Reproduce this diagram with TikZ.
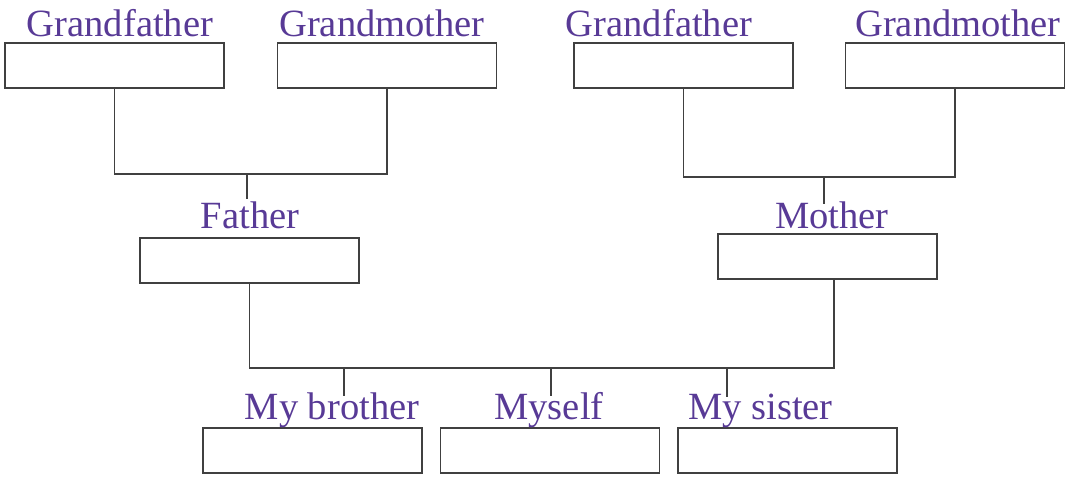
\documentclass[tikz,border=0pt]{standalone}
\usepackage{fontspec}
\setmainfont{Liberation Serif}
\usetikzlibrary{calc}
\definecolor{famtext}{RGB}{88,58,150}
\definecolor{famline}{RGB}{64,64,64}
\tikzset{
  namebox/.style={draw=famline, line width=0.9pt, minimum width=164.25pt, minimum height=33.75pt, inner sep=0pt},
  relname/.style={text=famtext, anchor=base, inner sep=0pt, font=\fontsize{28.9}{32}\selectfont},
  link/.style={draw=famline, line width=0.8pt}
}

\begin{document}
\begin{tikzpicture}[x=0.75pt,y=-0.75pt]
\useasboundingbox (0,0) rectangle (1072,476);
% Grandparents
\node[namebox] (gfA) at (114.5,65.5) {};
\node[namebox] (gmA) at (387,65.5) {};
\node[namebox] (gfB) at (683.5,65.5) {};
\node[namebox] (gmB) at (955,65.5) {};
\node[relname] (gfA-l) at (120,36) {Grandfather};
\node[relname] (gmA-l) at (382,36) {Grandmother};
\node[relname] (gfB-l) at (659,36) {Grandfather};
\node[relname] (gmB-l) at (958,36) {Grandmother};
% Parents
\node[namebox] (father) at (249.5,260.5) {};
\node[namebox] (mother) at (827.5,256.5) {};
\node[relname] (father-l) at (250,228) {Father};
\node[relname] (mother-l) at (832,228) {Mother};
% Children
\node[namebox] (brother) at (312.5,450.5) {};
\node[namebox] (myself) at (550,450.5) {};
\node[namebox] (sister) at (787.5,450.5) {};
\node[relname] (brother-l) at (332,419) {My brother};
\node[relname] (myself-l) at (549,419) {Myself};
\node[relname] (sister-l) at (760.5,419) {My sister};
% Junctions
\coordinate (joinA) at (247,174);
\coordinate (joinB) at (824,177);
\coordinate (joinC) at (551,368);
\coordinate (kidA) at (344,368);
\coordinate (kidC) at (727,368);
% Father's side
\draw[link] (gfA.south) |- (joinA) -| (gmA.south);
\draw[link] (joinA) -- ($(joinA |- father-l.north)+(0,-2)$);
% Mother's side
\draw[link] (gfB.south) |- (joinB) -| (gmB.south);
\draw[link] (joinB) -- ($(joinB |- mother-l.north)+(0,3)$);
% Parents to children
\draw[link] (father.south) |- (joinC) -| ($(mother.south)+(6.5,0)$);
\draw[link] (kidA) -- ($(kidA |- brother-l.north)+(0,4)$);
\draw[link] (joinC) -- ($(joinC |- myself-l.north)+(0,4)$);
\draw[link] (kidC) -- ($(kidC |- sister-l.north)+(0,4)$);
\end{tikzpicture}
\end{document}
